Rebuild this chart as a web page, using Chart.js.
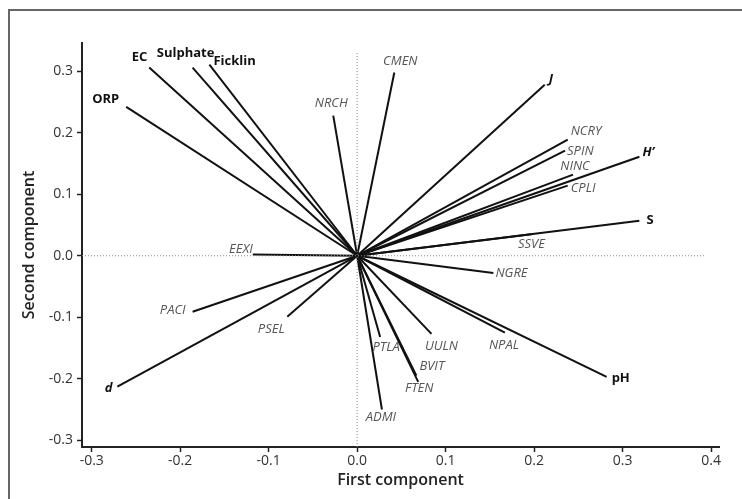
<!DOCTYPE html>
<html>
<head>
<meta charset="utf-8">
<script src="https://cdn.jsdelivr.net/npm/chart.js@4"></script>
<style>
  html, body { margin: 0; padding: 0; background: #ffffff; }
  #wrap { position: relative; width: 742px; height: 499px; overflow: hidden; }
  #frame { position: absolute; left: 8px; top: 9px; width: 900px; height: 700px; border: 2px solid #666; box-sizing: border-box; }
  canvas { position: absolute; left: 0; top: 0; }
</style>
</head>
<body>
<div id="wrap">
  <div id="frame"></div>
  <canvas id="c" width="742" height="499"></canvas>
</div>
<script>
// ---- data ----
const variables = ["ORP","EC","Sulphate","Ficklin","NRCH","CMEN","J","NCRY","SPIN","H’","NINC","CPLI","S","SSVE","NGRE","NPAL","pH","UULN","BVIT","FTEN","PTLA","ADMI","PSEL","PACI","d","EEXI"];
const firstComponent  = [-0.261,-0.235,-0.186,-0.167,-0.027,0.042,0.212,0.238,0.235,0.319,0.244,0.238,0.319,0.197,0.154,0.167,0.282,0.084,0.067,0.069,0.026,0.028,-0.079,-0.186,-0.271,-0.118];
const secondComponent = [0.242,0.306,0.306,0.311,0.228,0.298,0.278,0.189,0.171,0.161,0.132,0.114,0.057,0.035,-0.028,-0.125,-0.197,-0.127,-0.195,-0.205,-0.132,-0.250,-0.099,-0.091,-0.213,0.002];
const environmental = ["ORP","EC","Sulphate","Ficklin","pH","S","J","H’","d"];
const italicBold = ["J","H’","d"];
const xTickValues = [-0.3,-0.2,-0.1,0.0,0.1,0.2,0.3,0.4];
const yTickValues = [-0.3,-0.2,-0.1,0.0,0.1,0.2,0.3];

// ---- label layout (pixel offsets from vector tip) ----
const labelLayout = {
  "ORP":[-7,-8,"right"], "EC":[-2,-10,"right"], "Sulphate":[-7,-14,"center"], "Ficklin":[4,-3,"left"],
  "NRCH":[-2,-12,"center"], "CMEN":[6,-11,"center"], "J":[4,-6,"left"], "NCRY":[3,-8,"left"],
  "SPIN":[2,1,"left"], "H’":[3,-4,"left"], "NINC":[2,-8,"center"], "CPLI":[3,3,"left"],
  "S":[7,0,"left"], "SSVE":[0,10,"center"], "NGRE":[2,0,"left"], "NPAL":[-1,13,"center"],
  "pH":[5,1,"left"], "UULN":[10,12,"center"], "BVIT":[3,-9,"left"], "FTEN":[1,6,"center"],
  "PTLA":[6,10,"center"], "ADMI":[-1,8,"center"], "PSEL":[-16,13,"center"], "PACI":[-7,-1,"right"],
  "d":[-5,2,"right"], "EEXI":[0,-5,"right"]
};

const X_MIN = -0.311, X_MAX = 0.409, Y_MIN = -0.311, Y_MAX = 0.346;

const datasets = variables.map((name, i) => ({
  label: name,
  data: [{x: 0, y: 0}, {x: firstComponent[i], y: secondComponent[i]}],
  showLine: true,
  borderColor: "#111",
  borderWidth: 2,
  pointRadius: 0,
  fill: false
}));
// dotted reference lines through the origin
datasets.unshift({
  label: "x0",
  data: [{x: X_MIN, y: 0}, {x: 0.393, y: 0}],
  showLine: true, borderColor: "#888", borderWidth: 1, borderDash: [1, 2], pointRadius: 0
});
datasets.unshift({
  label: "y0",
  data: [{x: 0, y: Y_MIN}, {x: 0, y: 0.331}],
  showLine: true, borderColor: "#888", borderWidth: 1, borderDash: [1, 2], pointRadius: 0
});

const labelPlugin = {
  id: "vectorLabels",
  afterDatasetsDraw(chart) {
    const {ctx, scales: {x, y}} = chart;
    ctx.save();
    ctx.textBaseline = "middle";
    variables.forEach((name, i) => {
      const px = x.getPixelForValue(firstComponent[i]);
      const py = y.getPixelForValue(secondComponent[i]);
      const [dx, dy, align] = labelLayout[name];
      const env = environmental.includes(name);
      if (env) {
        ctx.font = (italicBold.includes(name) ? "italic " : "") + "bold 13px 'Open Sans'";
        ctx.fillStyle = "#111";
      } else {
        ctx.font = "italic 13px 'Open Sans'";
        ctx.fillStyle = "#555";
      }
      ctx.textAlign = align;
      ctx.fillText(name, px + dx, py + dy);
    });
    ctx.restore();
  }
};

new Chart(document.getElementById("c"), {
  type: "scatter",
  data: { datasets },
  options: {
    responsive: false,
    animation: false,
    events: [],
    layout: { padding: { left: 0, top: 43, right: 23, bottom: 0 } },
    plugins: { legend: { display: false }, tooltip: { enabled: false } },
    scales: {
      x: {
        type: "linear", min: X_MIN, max: X_MAX,
        afterBuildTicks: s => { s.ticks = xTickValues.map(v => ({value: v})); },
        afterFit: s => { s.height = 52; },
        ticks: { callback: v => v.toFixed(1), color: "#333", font: { family: "'Open Sans'", size: 14 }, padding: 1, maxRotation: 0, autoSkip: false },
        grid: { drawOnChartArea: false, drawTicks: true, tickLength: 5, color: "#222", tickWidth: 1.5 },
        border: { display: true, color: "#222", width: 2 },
        title: { display: true, text: "First component", color: "#222", font: { family: "'Open Sans'", size: 16, weight: "600" }, padding: { top: 0, bottom: 9 } }
      },
      y: {
        type: "linear", min: Y_MIN, max: Y_MAX,
        afterBuildTicks: s => { s.ticks = yTickValues.map(v => ({value: v})); },
        afterFit: s => { s.width = 82; },
        ticks: { callback: v => v.toFixed(1), color: "#333", font: { family: "'Open Sans'", size: 14 }, padding: 4, autoSkip: false },
        grid: { drawOnChartArea: false, drawTicks: true, tickLength: 5, color: "#222", tickWidth: 1.5 },
        border: { display: true, color: "#222", width: 2 },
        title: { display: true, text: "Second component", color: "#222", font: { family: "'Open Sans'", size: 16, weight: "600" }, padding: { top: 20, bottom: 0 } }
      }
    }
  },
  plugins: [labelPlugin]
});
</script>
</body>
</html>
